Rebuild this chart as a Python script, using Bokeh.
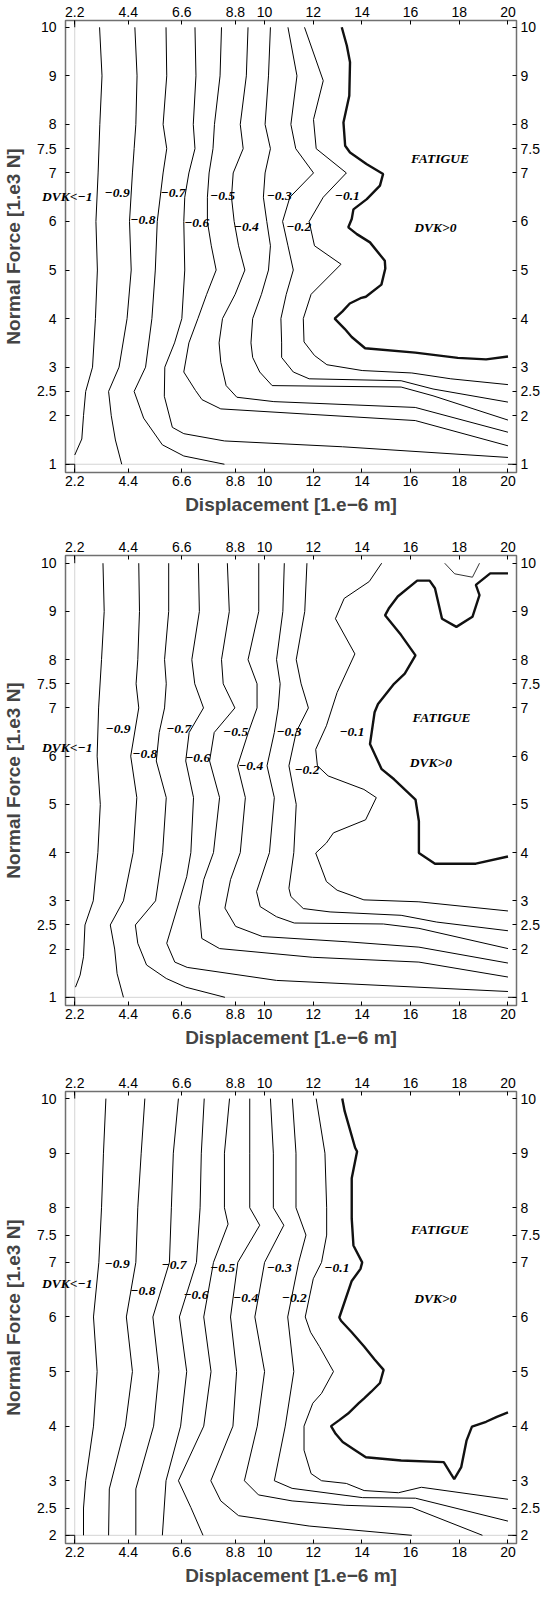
from bokeh.plotting import figure
from bokeh.layouts import column
from bokeh.models import Range1d, LinearAxis, FixedTicker, Label
from bokeh.embed import file_html
from bokeh.resources import INLINE

# ---------------- ticks ----------------
X_TICKS = [2.2, 4.4, 6.6, 8.8, 10, 12, 14, 16, 18, 20]
X_TICK_LABELS = ["2.2", "4.4", "6.6", "8.8", "10", "12", "14", "16", "18", "20"]
Y_TICKS_AB = [1, 2, 2.5, 3, 4, 5, 6, 7, 7.5, 8, 9, 10]
Y_TICK_LABELS_AB = ["1", "2", "2.5", "3", "4", "5", "6", "7", "7.5", "8", "9", "10"]
Y_TICKS_C = [2, 2.5, 3, 4, 5, 6, 7, 7.5, 8, 9, 10]
Y_TICK_LABELS_C = ["2", "2.5", "3", "4", "5", "6", "7", "7.5", "8", "9", "10"]

LOW_LABEL = "DVK<\u22121"
REGION_LABELS = ["\u22120.9", "\u22120.8", "\u22120.7", "\u22120.6", "\u22120.5",
                 "\u22120.4", "\u22120.3", "\u22120.2", "\u22120.1", "FATIGUE", "DVK>0"]

# ---------------- panel 1 ----------------
P1_LOW_Y = 6.52
P1_LABEL_X = [3.94, 5.0, 6.24, 7.21, 8.27, 9.25, 10.6, 11.4, 13.4, 17.21, 17.02]
P1_LABEL_Y = [6.59, 6.03, 6.59, 5.97, 6.52, 5.88, 6.52, 5.88, 6.52, 7.29, 5.88]

P1_A_X = [3.22, 3.32, 3.23, 3.16, 3.07, 3.13, 3.05, 2.93, 2.65, 2.56, 2.49, 2.2]
P1_A_Y = [10, 9, 8, 7, 6, 5, 4, 3, 2.5, 2, 1.52, 1.19]
P1_B_X = [4.67, 4.76, 4.71, 4.64, 4.57, 4.45, 4.52, 4.35, 4.02, 3.59, 3.70, 3.87, 4.13]
P1_B_Y = [10, 9, 8, 7.5, 7, 6, 5, 4, 3, 2.5, 2, 1.5, 1.0]
P1_C_X = [5.95, 5.98, 5.83, 5.98, 5.83, 5.59, 5.51, 5.37, 5.11, 4.64, 5.03, 5.8, 6.68, 8.35]
P1_C_Y = [10, 9, 8, 7.5, 7, 6, 5, 4, 3, 2.5, 1.95, 1.4, 1.17, 1.0]
P1_D_X = [7.14, 7.18, 7.07, 7.14, 6.89, 6.72, 6.68, 6.72, 6.6, 6.3, 5.9, 5.88, 6.21, 6.68, 8.35, 13.2, 20]
P1_D_Y = [10, 9, 8, 7.5, 7, 6.5, 6, 5, 4, 3.5, 3, 2.4, 1.76, 1.63, 1.48, 1.36, 1.14]
P1_E_X = [8.23, 8.17, 7.94, 7.88, 7.72, 7.65, 7.65, 7.81, 8.01, 7.62, 7.26, 6.89, 6.68, 7.16, 7.43, 8.2, 11.83, 16.19, 20]
P1_E_Y = [10, 9, 8, 7.5, 7, 6.5, 6, 5.5, 5, 4.5, 4, 3.5, 2.9, 2.52, 2.33, 2.14, 2.03, 1.9, 1.38]
P1_F_X = [9.32, 9.25, 9.0, 9.12, 8.71, 8.64, 8.75, 8.93, 9.19, 8.79, 8.27, 8.13, 8.2, 8.42, 8.86, 10.38, 16.19, 20]
P1_F_Y = [10, 9, 8, 7.5, 7, 6.5, 6, 5.5, 5, 4.5, 4, 3.5, 3.1, 2.62, 2.38, 2.29, 2.17, 1.66]
P1_G_X = [10.24, 10.16, 10.02, 10.24, 10.02, 9.95, 10.09, 10.24, 10.16, 9.87, 9.51, 9.44, 9.51, 9.8, 10.31, 15.61, 16.92, 20]
P1_G_Y = [10, 9, 8, 7.5, 7, 6.5, 6, 5.5, 5, 4.5, 4, 3.5, 3.2, 2.9, 2.62, 2.59, 2.41, 1.91]
P1_H_X = [10.96, 11.33, 11.08, 11.28, 12.01, 11.04, 10.74, 10.96, 11.18, 10.89, 10.67, 10.7, 10.7, 11.18, 11.83, 15.61, 16.92, 20]
P1_H_Y = [10, 9, 8, 7.5, 7, 6.5, 6, 5.5, 5, 4.5, 4, 3.5, 3.2, 2.9, 2.76, 2.72, 2.55, 2.28]
P1_I_X = [11.64, 12.41, 12.01, 12.12, 13.36, 12.41, 11.83, 12.05, 13.14, 11.91, 11.59, 11.62, 12.05, 12.56, 14.01, 16.05, 17.65, 20]
P1_I_Y = [10, 8.9, 8.1, 7.5, 7, 6.5, 6, 5.5, 5.12, 4.5, 4, 3.52, 3.24, 3.05, 2.93, 2.88, 2.76, 2.64]
P1_ZERO_X = [13.17, 13.38, 13.51, 13.48, 13.24, 13.31, 13.51, 14.2, 14.87, 14.74, 14.2, 13.65, 13.58, 13.44,
             13.79, 14.33, 14.94, 14.96, 14.8, 14.16, 13.94, 13.5, 13.2, 12.88, 13.29, 13.58, 14.13, 16.19,
             17.94, 19.1, 20]
P1_ZERO_Y = [10, 9.62, 9.28, 8.59, 8.04, 7.56, 7.42, 7.18, 6.98, 6.74, 6.46, 6.25, 6.05, 5.88, 5.74, 5.57,
             5.19, 5.03, 4.7, 4.45, 4.42, 4.31, 4.15, 4.0, 3.79, 3.62, 3.39, 3.3, 3.19, 3.16, 3.22]

# ---------------- panel 2 ----------------
P2_LOW_Y = 6.18
P2_LABEL_X = [3.98, 5.08, 6.47, 7.25, 8.81, 9.43, 11.0, 11.74, 13.59, 17.27, 16.83]
P2_LABEL_Y = [6.57, 6.04, 6.57, 5.96, 6.5, 5.8, 6.5, 5.71, 6.5, 6.8, 5.87]

P2_A_X = [3.36, 3.41, 3.3, 3.18, 3.12, 3.25, 3.15, 2.96, 2.62, 2.56, 2.42, 2.23]
P2_A_Y = [10, 9, 8, 7, 6, 5, 4, 3, 2.5, 1.84, 1.46, 1.21]
P2_B_X = [4.83, 4.86, 4.79, 4.72, 4.83, 4.5, 4.75, 4.6, 4.2, 3.66, 3.84, 3.94, 4.2]
P2_B_Y = [10, 9, 8, 7.5, 7, 6, 5.14, 4, 3, 2.5, 2, 1.49, 1.0]
P2_C_X = [6.06, 6.06, 5.89, 5.96, 5.89, 5.67, 5.55, 5.96, 5.81, 5.52, 4.69, 4.79, 5.15, 5.96, 6.76, 8.37]
P2_C_Y = [10, 9, 8, 7.5, 7, 6.49, 5.9, 5.14, 4, 3, 2.5, 2.12, 1.67, 1.39, 1.21, 1.0]
P2_D_X = [7.28, 7.32, 7.01, 7.13, 7.49, 6.9, 6.76, 7.08, 6.97, 6.8, 6.5, 5.98, 6.31, 6.82, 10.49, 20]
P2_D_Y = [10, 9, 8, 7.5, 7, 6.49, 5.9, 5.14, 4, 3.5, 3.0, 2.12, 1.73, 1.62, 1.35, 1.12]
P2_E_X = [8.47, 8.55, 8.23, 8.3, 8.78, 7.93, 7.74, 8.15, 7.9, 7.5, 7.3, 7.42, 8.15, 11.96, 16.34, 20]
P2_E_Y = [10, 9, 8, 7.5, 7, 6.49, 5.9, 5.14, 4, 3.44, 2.88, 2.22, 2.01, 1.83, 1.73, 1.42]
P2_F_X = [9.76, 9.76, 9.32, 9.69, 9.69, 9.33, 8.89, 9.21, 9.0, 8.6, 8.37, 8.81, 9.91, 13.42, 16.34, 20]
P2_F_Y = [10, 9, 8, 7.5, 7, 6.49, 5.8, 5.14, 4, 3.44, 2.85, 2.47, 2.26, 2.15, 2.04, 1.71]
P2_G_X = [10.81, 10.75, 10.49, 10.64, 10.56, 10.4, 10.1, 10.4, 10.2, 9.67, 9.82, 10.49, 11.22, 14.88, 16.34, 20]
P2_G_Y = [10, 9, 8, 7.5, 7, 6.49, 5.8, 5.14, 4, 3.19, 2.88, 2.67, 2.54, 2.52, 2.43, 2.01]
P2_H_X = [11.74, 11.65, 11.3, 11.5, 11.8, 11.3, 11.0, 11.3, 11.2, 11.0, 11.08, 11.59, 12.69, 15.61, 17.07, 20]
P2_H_Y = [10, 9, 8, 7.5, 7, 6.5, 5.8, 5.0, 4.0, 3.26, 3.09, 2.84, 2.77, 2.7, 2.56, 2.38]
P2_I_X = [14.81, 14.3, 13.27, 12.91, 13.71, 12.98, 12.54, 12.1, 12.17, 12.61, 14.08, 14.59, 14.15, 12.83,
          12.54, 12.1, 12.54, 12.98, 14.08, 16.34, 20]
P2_I_Y = [10, 9.62, 9.27, 8.85, 8.12, 7.32, 6.63, 6.14, 5.8, 5.59, 5.31, 5.14, 4.68, 4.41, 4.2, 3.99,
          3.4, 3.22, 3.02, 2.98, 2.79]
P2_ZERO_X = [20, 18.68, 17.0, 16.34, 16.34, 16.2, 15.32, 14.81, 14.33, 14.52, 14.66, 15.32, 15.76, 16.2,
             15.61, 14.95, 15.1, 15.47, 16.27, 16.78, 17.0, 17.29, 17.88, 18.54, 18.83, 18.68, 19.27, 20]
P2_ZERO_Y = [3.92, 3.77, 3.77, 3.99, 4.65, 5.1, 5.52, 5.73, 6.25, 6.91, 7.08, 7.5, 7.71, 8.09, 8.51, 8.92,
             9.06, 9.31, 9.64, 9.64, 9.48, 8.85, 8.68, 8.89, 9.34, 9.55, 9.79, 9.79]
P2_TOP_X = [17.4, 17.81, 18.54, 18.83]
P2_TOP_Y = [10, 9.78, 9.71, 10]

# ---------------- panel 3 ----------------
P3_LOW_Y = 6.62
P3_LABEL_X = [3.94, 5.0, 6.28, 7.18, 8.27, 9.22, 10.6, 11.22, 12.97, 17.21, 17.02]
P3_LABEL_Y = [6.97, 6.47, 6.96, 6.4, 6.9, 6.34, 6.9, 6.34, 6.9, 7.61, 6.34]

P3_A_X = [3.48, 3.38, 3.3, 3.19, 2.97, 3.12, 2.97, 2.65, 2.56, 2.56]
P3_A_Y = [10, 9, 8, 7, 6, 5, 4, 3, 2.5, 2]
P3_B_X = [5.08, 4.93, 4.79, 4.71, 4.32, 4.57, 4.28, 3.62, 3.59]
P3_B_Y = [10, 9, 8, 7, 6, 5, 4, 2.85, 2]
P3_C_X = [6.46, 6.25, 6.17, 6.09, 5.41, 5.66, 5.44, 4.71, 4.71]
P3_C_Y = [10, 9, 8, 7, 6, 5, 4, 2.85, 2]
P3_D_X = [7.52, 7.4, 7.35, 7.2, 6.5, 6.8, 6.55, 5.95, 5.8]
P3_D_Y = [10, 9, 8, 7, 6, 5, 4, 3, 2]
P3_E_X = [8.56, 8.35, 8.35, 8.5, 7.9, 7.5, 7.8, 7.5, 6.46, 6.97, 7.47]
P3_E_Y = [10, 9, 8, 7.7, 7, 6, 5, 4, 3, 2.51, 2]
P3_F_X = [9.39, 9.39, 9.39, 9.8, 8.9, 8.6, 8.85, 8.7, 7.79, 8.2, 8.93, 11.83, 16.05]
P3_F_Y = [10, 9, 8, 7.68, 7, 6, 5, 4, 3, 2.63, 2.36, 2.17, 2.0]
P3_G_X = [10.24, 10.36, 10.36, 10.79, 10.0, 9.6, 10.0, 9.7, 9.17, 9.75, 11.13, 13.31, 16.05, 18.95]
P3_G_Y = [10, 9, 8, 7.68, 7, 6, 5, 4, 3, 2.74, 2.63, 2.55, 2.51, 2.0]
P3_H_X = [11.14, 11.29, 11.29, 11.7, 11.4, 10.95, 11.2, 10.85, 10.4, 11.13, 14.03, 16.2, 20]
P3_H_Y = [10, 9, 8, 7.5, 7, 6, 5, 4, 3, 2.86, 2.69, 2.68, 2.26]
P3_I_X = [12.12, 12.48, 12.55, 12.55, 12.34, 12.0, 11.67, 11.89, 12.25, 12.83, 12.34, 11.98, 11.62, 11.62,
          11.91, 12.34, 13.36, 14.09, 15.5, 16.44, 20]
P3_I_Y = [10, 9, 8, 7.5, 7, 6.7, 6, 5.72, 5.46, 5.0, 4.6, 4.42, 4.0, 3.56, 3.13, 3.0, 2.95, 2.82, 2.78,
          2.88, 2.66]
P3_ZERO_X = [13.19, 13.29, 13.72, 13.8, 13.58, 13.58, 13.65, 14.01, 13.94, 13.58, 13.07, 13.14, 13.58, 14.09,
             14.52, 14.89, 14.74, 14.38, 14.09, 13.87, 13.43, 13.07, 12.73, 12.92, 13.21, 13.72, 14.16, 15.61,
             17.36, 17.65, 17.79, 18.08, 18.3, 18.52, 19.1, 19.54, 20]
P3_ZERO_Y = [10, 9.77, 9.1, 9.03, 8.54, 7.8, 7.31, 7.0, 6.88, 6.66, 5.99, 5.93, 5.72, 5.46, 5.22, 5.03,
             4.79, 4.63, 4.51, 4.42, 4.23, 4.11, 4.0, 3.86, 3.71, 3.56, 3.43, 3.37, 3.34, 3.13, 3.03, 3.25,
             3.74, 3.99, 4.08, 4.17, 4.25]

X_START, X_END = 1.82, 20.35
AXIS_X0, AXIS_X1 = 2.2, 20.0

TICK_FONT = "Liberation Sans"
LABEL_FONT = "Liberation Serif"
LABEL_SIZE = "13.5px"
LOW_LABEL_INSET = 27      # px the "DVK<-1" label reaches into the frame
LOW_LABEL_WIDTH = 50      # approx. rendered width of that label


def panel(thin, thick, extra_thin, low_y, lab_x, lab_y, y_ticks, y_tick_labels, y0, y1, axis_y0, axis_y1,
          border_top, frame_h, border_bottom):
    p = figure(output_backend="svg", toolbar_location=None,
               frame_width=451, frame_height=frame_h,
               min_border_left=64, min_border_right=25,
               min_border_top=border_top, min_border_bottom=border_bottom,
               x_range=Range1d(X_START, X_END), y_range=Range1d(y0, y1),
               x_axis_location=None, y_axis_location=None)
    p.background_fill_color = "white"
    p.border_fill_color = "white"
    p.outline_line_color = "#707070"
    p.outline_line_width = 1.5
    p.xgrid.visible = False
    p.ygrid.visible = False

    x_over = {t: s for t, s in zip(X_TICKS, X_TICK_LABELS)}
    y_over = {t: s for t, s in zip(y_ticks, y_tick_labels)}

    for loc in ("below", "above"):
        ax = LinearAxis(ticker=FixedTicker(ticks=X_TICKS), major_label_overrides=x_over)
        ax.axis_line_color = None
        ax.major_tick_in = 4
        ax.major_tick_out = 0
        ax.minor_tick_line_color = None
        ax.major_label_text_font = TICK_FONT
        ax.major_label_text_font_size = "14px"
        ax.major_label_text_color = "black"
        ax.major_label_standoff = 4 if loc == "above" else 3
        if loc == "below":
            ax.axis_label = "Displacement [1.e\u22126 m]"
            ax.axis_label_text_font = TICK_FONT
            ax.axis_label_text_font_style = "bold"
            ax.axis_label_text_font_size = "19px"
            ax.axis_label_standoff = 5
        p.add_layout(ax, loc)

    # left side: 1) tick marks only, 2) the "DVK<-1" region label, 3) tick labels + title
    tick_ax = LinearAxis(ticker=FixedTicker(ticks=y_ticks), major_label_overrides={t: "" for t in y_ticks})
    tick_ax.axis_line_color = None
    tick_ax.major_tick_in = 4
    tick_ax.major_tick_out = 0
    tick_ax.minor_tick_line_color = None
    tick_ax.major_label_standoff = 0
    tick_ax.major_label_text_font_size = "1px"
    p.add_layout(tick_ax, "left")

    low_ax = LinearAxis(ticker=FixedTicker(ticks=[low_y]), major_label_overrides={low_y: LOW_LABEL})
    low_ax.axis_line_color = None
    low_ax.major_tick_line_color = None
    low_ax.minor_tick_line_color = None
    low_ax.major_tick_in = 0
    low_ax.major_tick_out = 0
    low_ax.major_label_standoff = -LOW_LABEL_INSET
    low_ax.major_label_text_font = LABEL_FONT
    low_ax.major_label_text_font_style = "bold italic"
    low_ax.major_label_text_font_size = LABEL_SIZE
    low_ax.major_label_text_color = "black"
    p.add_layout(low_ax, "left")

    lab_ax = LinearAxis(ticker=FixedTicker(ticks=y_ticks), major_label_overrides=y_over)
    lab_ax.axis_line_color = None
    lab_ax.major_tick_line_color = None
    lab_ax.minor_tick_line_color = None
    lab_ax.major_tick_in = 0
    lab_ax.major_tick_out = 0
    lab_ax.major_label_text_font = TICK_FONT
    lab_ax.major_label_text_font_size = "14px"
    lab_ax.major_label_text_color = "black"
    lab_ax.major_label_standoff = 6 - (LOW_LABEL_WIDTH - LOW_LABEL_INSET)
    lab_ax.axis_label = "Normal Force [1.e3 N]"
    lab_ax.axis_label_text_font = TICK_FONT
    lab_ax.axis_label_text_font_style = "bold"
    lab_ax.axis_label_text_font_size = "19px"
    lab_ax.axis_label_standoff = 10
    p.add_layout(lab_ax, "left")

    ax = LinearAxis(ticker=FixedTicker(ticks=y_ticks), major_label_overrides=y_over)
    ax.axis_line_color = None
    ax.major_tick_in = 4
    ax.major_tick_out = 0
    ax.minor_tick_line_color = None
    ax.major_label_text_font = TICK_FONT
    ax.major_label_text_font_size = "14px"
    ax.major_label_text_color = "black"
    ax.major_label_standoff = 4
    p.add_layout(ax, "right")

    # axes through the origin (2.2, axis_y0)
    p.segment(x0=[AXIS_X0], y0=[axis_y0], x1=[AXIS_X1], y1=[axis_y0], line_color="#d4d4d4", line_width=1)
    p.segment(x0=[AXIS_X0], y0=[axis_y0], x1=[AXIS_X0], y1=[axis_y1], line_color="#d4d4d4", line_width=1)
    p.segment(x0=[X_START, AXIS_X1, AXIS_X0, AXIS_X0], y0=[axis_y0, axis_y0, y0, axis_y1],
              x1=[AXIS_X0, X_END, AXIS_X0, AXIS_X0], y1=[axis_y0, axis_y0, axis_y0, y1],
              line_color="black", line_width=1)

    for xs, ys in thin:
        p.line(xs, ys, line_color="black", line_width=1.0)
    for xs, ys in extra_thin:
        p.line(xs, ys, line_color="black", line_width=0.8)
    for xs, ys in thick:
        p.line(xs, ys, line_color="#111111", line_width=2.4)

    for t, x, y in zip(REGION_LABELS, lab_x, lab_y):
        p.add_layout(Label(x=x, y=y, text=t, text_font=LABEL_FONT, text_font_style="bold italic",
                           text_font_size=LABEL_SIZE, text_align="center", text_baseline="middle",
                           text_color="black"))
    return p


p1 = panel([(P1_A_X, P1_A_Y), (P1_B_X, P1_B_Y), (P1_C_X, P1_C_Y), (P1_D_X, P1_D_Y), (P1_E_X, P1_E_Y),
            (P1_F_X, P1_F_Y), (P1_G_X, P1_G_Y), (P1_H_X, P1_H_Y), (P1_I_X, P1_I_Y)],
           [(P1_ZERO_X, P1_ZERO_Y)], [], P1_LOW_Y, P1_LABEL_X, P1_LABEL_Y,
           Y_TICKS_AB, Y_TICK_LABELS_AB, 0.83, 10.14, 1, 10, 20, 452, 50)
p2 = panel([(P2_A_X, P2_A_Y), (P2_B_X, P2_B_Y), (P2_C_X, P2_C_Y), (P2_D_X, P2_D_Y), (P2_E_X, P2_E_Y),
            (P2_F_X, P2_F_Y), (P2_G_X, P2_G_Y), (P2_H_X, P2_H_Y), (P2_I_X, P2_I_Y)],
           [(P2_ZERO_X, P2_ZERO_Y)], [(P2_TOP_X, P2_TOP_Y)], P2_LOW_Y, P2_LABEL_X, P2_LABEL_Y,
           Y_TICKS_AB, Y_TICK_LABELS_AB, 0.83, 10.16, 1, 10, 33, 450, 50)
p3 = panel([(P3_A_X, P3_A_Y), (P3_B_X, P3_B_Y), (P3_C_X, P3_C_Y), (P3_D_X, P3_D_Y), (P3_E_X, P3_E_Y),
            (P3_F_X, P3_F_Y), (P3_G_X, P3_G_Y), (P3_H_X, P3_H_Y), (P3_I_X, P3_I_Y)],
           [(P3_ZERO_X, P3_ZERO_Y)], [], P3_LOW_Y, P3_LABEL_X, P3_LABEL_Y,
           Y_TICKS_C, Y_TICK_LABELS_C, 1.85, 10.13, 2, 10, 36, 452, 45)

layout = column(p1, p2, p3, spacing=0)
open("out.html", "w").write(file_html(layout, INLINE))
